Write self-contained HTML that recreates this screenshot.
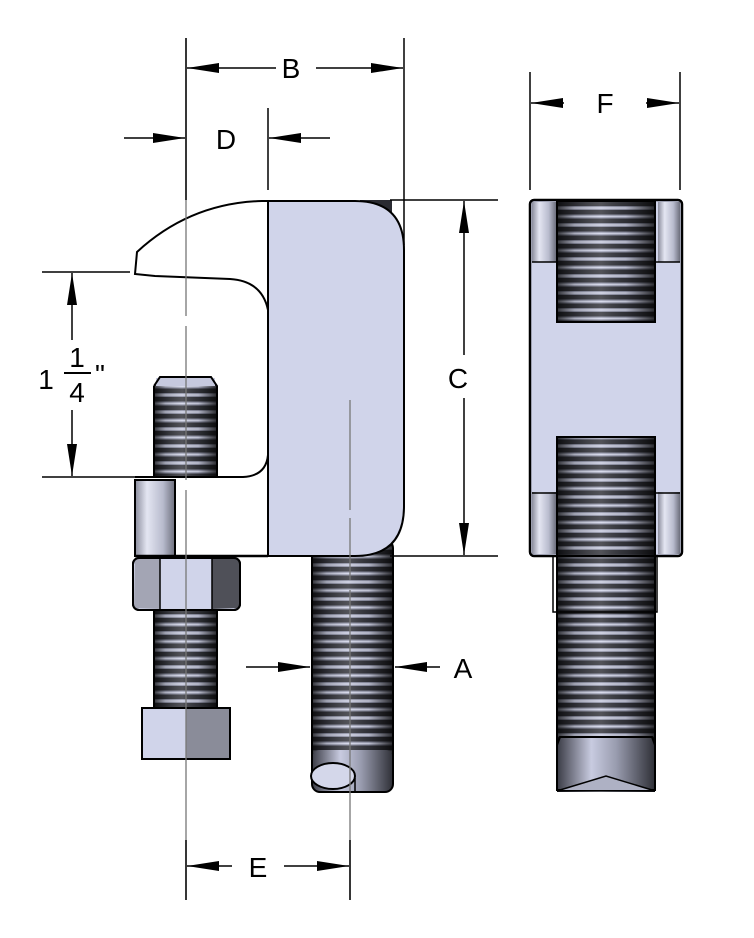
<!DOCTYPE html>
<html><head><meta charset="utf-8"><style>
html,body{margin:0;padding:0;background:#fff;}
svg{display:block;}
text{font-family:"Liberation Sans",sans-serif;fill:#000;}
</style></head><body>
<svg width="754" height="938" viewBox="0 0 754 938" xmlns="http://www.w3.org/2000/svg">
<defs>
<pattern id="thr" width="10" height="8.5" patternUnits="userSpaceOnUse">
<rect width="10" height="8.5" fill="#34353c"/>
<rect y="2" width="10" height="4" fill="#8f92a6"/>
<rect y="3.2" width="10" height="1.6" fill="#d2d5e8"/>
</pattern>
<linearGradient id="shade" x1="0" x2="1" y1="0" y2="0">
<stop offset="0" stop-color="#000" stop-opacity="0.75"/>
<stop offset="0.18" stop-color="#000" stop-opacity="0.2"/>
<stop offset="0.45" stop-color="#fff" stop-opacity="0.15"/>
<stop offset="0.7" stop-color="#000" stop-opacity="0.1"/>
<stop offset="1" stop-color="#000" stop-opacity="0.8"/>
</linearGradient>
<linearGradient id="smooth" x1="0" x2="1" y1="0" y2="0">
<stop offset="0" stop-color="#3a3b45"/>
<stop offset="0.35" stop-color="#c8cbe0"/>
<stop offset="0.6" stop-color="#9a9db0"/>
<stop offset="1" stop-color="#2e2f36"/>
</linearGradient>
<linearGradient id="coll" x1="0" x2="1" y1="0" y2="0">
<stop offset="0" stop-color="#8a8c9c"/>
<stop offset="0.3" stop-color="#e4e6f2"/>
<stop offset="0.7" stop-color="#b8bbcd"/>
<stop offset="1" stop-color="#6c6e7c"/>
</linearGradient>
<marker id="ah" viewBox="0 0 32 10" refX="32" refY="5" markerWidth="32" markerHeight="10" markerUnits="userSpaceOnUse" orient="auto">
<path d="M0,0 L32,5 L0,10 Z" fill="#000"/>
</marker>
</defs>

<!-- LEFT VIEW -->
<rect x="312" y="540" width="81" height="250" rx="6" fill="url(#thr)"/>
<rect x="312" y="540" width="81" height="250" rx="6" fill="url(#shade)"/>
<rect x="312" y="750" width="81" height="42" rx="8" fill="url(#smooth)"/>
<rect x="312" y="540" width="81" height="252" rx="8" fill="none" stroke="#000" stroke-width="2"/>
<ellipse cx="333" cy="776" rx="22" ry="13" fill="#d4d7ea" stroke="#000" stroke-width="2"/>
<line x1="355" y1="778" x2="355" y2="792" stroke="#000" stroke-width="1.5"/>
<rect x="360" y="200" width="32" height="30" fill="#2a2b32"/>

<path d="M154 386 L160 377 L211 377 L217 386 L217 477 L154 477 Z" fill="url(#thr)"/>
<path d="M154 386 L160 377 L211 377 L217 386 L217 477 L154 477 Z" fill="url(#shade)"/>
<rect x="156" y="378" width="59" height="8" fill="#c6c9de"/>
<path d="M154 386 L160 377 L211 377 L217 386 L217 477" fill="none" stroke="#000" stroke-width="2"/>
<line x1="154" y1="386" x2="154" y2="477" stroke="#000" stroke-width="2"/>

<path d="M268 201 L355 201 Q404 201 404 250 L404 506 Q404 556 355 556 L268 556 Z" fill="#d0d4ea" stroke="#000" stroke-width="2"/>
<path d="M268 201 L262 201 Q190 203 137 252 L135 274 L155 276 L230 279 Q262 281 268 310 L268 455 Q266 476 243 477 L135 477" fill="none" stroke="#000" stroke-width="2"/>
<rect x="135" y="480" width="40" height="76" fill="url(#coll)" stroke="#000" stroke-width="2"/>
<line x1="135" y1="556" x2="268" y2="556" stroke="#000" stroke-width="2.5"/>

<rect x="133" y="558" width="107" height="52" rx="6" fill="#d0d4ea" stroke="#000" stroke-width="2"/>
<path d="M160 559 L135 559 L134 608 L160 609 Z" fill="#a3a5b4"/>
<path d="M212 559 L239 559 L239 608 L212 609 Z" fill="#4f5058"/>
<line x1="160" y1="559" x2="160" y2="609" stroke="#000" stroke-width="1.5"/>
<line x1="212" y1="559" x2="212" y2="609" stroke="#000" stroke-width="1.5"/>
<rect x="133" y="558" width="107" height="52" rx="6" fill="none" stroke="#000" stroke-width="2"/>
<rect x="154" y="611" width="63" height="97" fill="url(#thr)"/>
<rect x="154" y="611" width="63" height="97" fill="url(#shade)"/>
<line x1="154" y1="611" x2="154" y2="708" stroke="#000" stroke-width="2"/>
<line x1="217" y1="611" x2="217" y2="708" stroke="#000" stroke-width="2"/>
<rect x="142" y="708" width="88" height="51" fill="#d0d4ea"/>
<rect x="186" y="708" width="44" height="51" fill="#8a8c99"/>
<rect x="142" y="708" width="88" height="51" fill="none" stroke="#000" stroke-width="2"/>

<!-- RIGHT VIEW -->
<rect x="557" y="430" width="98" height="362" fill="url(#thr)"/>
<rect x="557" y="430" width="98" height="362" fill="url(#shade)"/>
<rect x="553" y="556" width="104" height="56" fill="none" stroke="#000" stroke-width="1.5"/>
<path d="M557 745 L560 737 L652 737 L655 745 L655 790 L557 790 Z" fill="url(#smooth)" stroke="#000" stroke-width="2"/>
<path d="M560 790 L606 776 L652 790" fill="#aeb1c4" stroke="#000" stroke-width="1.5"/>
<line x1="557" y1="430" x2="557" y2="790" stroke="#000" stroke-width="2"/>
<line x1="655" y1="430" x2="655" y2="790" stroke="#000" stroke-width="2"/>
<rect x="530" y="200" width="152" height="356" rx="4" fill="#d0d4ea" stroke="#000" stroke-width="2"/>
<rect x="532" y="202" width="24" height="60" fill="url(#coll)"/>
<rect x="658" y="202" width="22" height="60" fill="url(#coll)"/>
<rect x="532" y="492" width="24" height="62" fill="url(#coll)"/>
<rect x="658" y="492" width="22" height="62" fill="url(#coll)"/>
<line x1="532" y1="262" x2="557" y2="262" stroke="#000" stroke-width="1.5"/>
<line x1="655" y1="262" x2="680" y2="262" stroke="#000" stroke-width="1.5"/>
<line x1="532" y1="493" x2="557" y2="493" stroke="#000" stroke-width="1.5"/>
<line x1="655" y1="493" x2="680" y2="493" stroke="#000" stroke-width="1.5"/>
<rect x="557" y="201" width="98" height="121" fill="url(#thr)"/>
<rect x="557" y="201" width="98" height="121" fill="url(#shade)"/>
<rect x="557" y="201" width="98" height="121" fill="none" stroke="#000" stroke-width="2"/>
<rect x="557" y="437" width="98" height="119" fill="url(#thr)"/>
<rect x="557" y="437" width="98" height="119" fill="url(#shade)"/>
<path d="M557 556 L557 437 L655 437 L655 556" fill="none" stroke="#000" stroke-width="2"/>
<rect x="530" y="200" width="152" height="356" rx="4" fill="none" stroke="#000" stroke-width="2.5"/>

<g stroke="#777" stroke-width="1.3" fill="none">
<line x1="186" y1="38" x2="186" y2="316"/>
<line x1="186" y1="326" x2="186" y2="480"/>
<line x1="186" y1="490" x2="186" y2="900"/>
<line x1="350" y1="400" x2="350" y2="510"/>
<line x1="350" y1="518" x2="350" y2="580"/>
<line x1="350" y1="590" x2="350" y2="900"/>
</g>
<g stroke="#000" stroke-width="1.5" fill="none">
<line x1="186" y1="38" x2="186" y2="200"/>
<line x1="404" y1="38" x2="404" y2="245"/>
<line x1="268" y1="108" x2="268" y2="190"/>
<line x1="530" y1="72" x2="530" y2="190"/>
<line x1="680" y1="72" x2="680" y2="190"/>
<line x1="390" y1="200" x2="498" y2="200"/>
<line x1="390" y1="556" x2="498" y2="556"/>
<line x1="42" y1="272" x2="130" y2="272"/>
<line x1="42" y1="477" x2="150" y2="477"/>
<line x1="186" y1="840" x2="186" y2="900"/>
<line x1="350" y1="840" x2="350" y2="900"/>

<line x1="276" y1="68" x2="187" y2="68" marker-end="url(#ah)"/>
<line x1="316" y1="68" x2="403" y2="68" marker-end="url(#ah)"/>
<line x1="124" y1="138" x2="185" y2="138" marker-end="url(#ah)"/>
<line x1="330" y1="138" x2="269" y2="138" marker-end="url(#ah)"/>
<line x1="564" y1="103" x2="531" y2="103" marker-end="url(#ah)"/>
<line x1="646" y1="103" x2="679" y2="103" marker-end="url(#ah)"/>
<line x1="464" y1="355" x2="464" y2="201" marker-end="url(#ah)"/>
<line x1="464" y1="398" x2="464" y2="555" marker-end="url(#ah)"/>
<line x1="72" y1="340" x2="72" y2="273" marker-end="url(#ah)"/>
<line x1="72" y1="410" x2="72" y2="476" marker-end="url(#ah)"/>
<line x1="246" y1="667" x2="310" y2="667" marker-end="url(#ah)"/>
<line x1="440" y1="667" x2="395" y2="667" marker-end="url(#ah)"/>
<line x1="232" y1="866" x2="187" y2="866" marker-end="url(#ah)"/>
<line x1="284" y1="866" x2="349" y2="866" marker-end="url(#ah)"/>
<line x1="64" y1="373" x2="91" y2="373" stroke-width="2"/>
</g>
<g font-size="28">
<text x="291" y="78" text-anchor="middle">B</text>
<text x="226" y="149" text-anchor="middle">D</text>
<text x="605" y="113" text-anchor="middle">F</text>
<text x="458" y="388" text-anchor="middle">C</text>
<text x="463" y="678" text-anchor="middle">A</text>
<text x="258" y="877" text-anchor="middle">E</text>
<text x="46" y="389" text-anchor="middle">1</text>
<text x="77" y="367" text-anchor="middle">1</text>
<text x="77" y="402" text-anchor="middle">4</text>
<text x="100" y="384" text-anchor="middle">"</text>
</g>
</svg>
</body></html>
